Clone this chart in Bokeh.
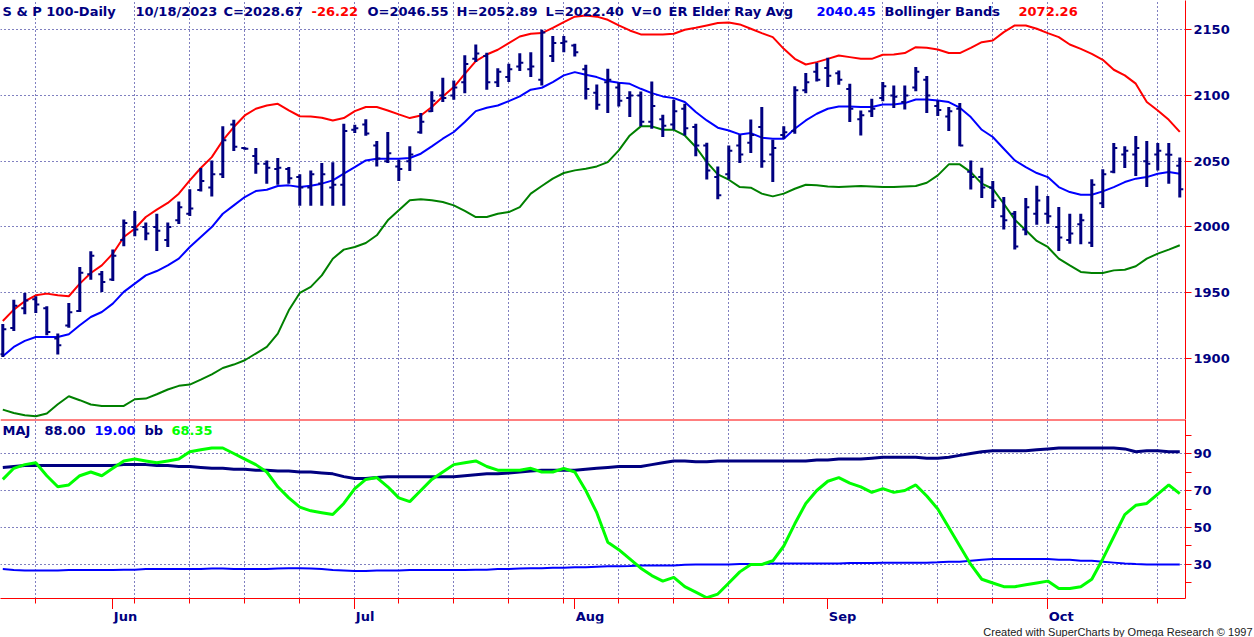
from bokeh.plotting import figure
from bokeh.models import Range1d, FixedTicker, Span, Label, Grid, ColumnDataSource, Title
from bokeh.layouts import column
from bokeh.embed import file_html
from bokeh.resources import INLINE
from bokeh.core.properties import value

# ---------------- data ----------------
opens = [1903, 1923, 1938, 1945, 1938, 1915, 1925, 1936, 1964, 1964,
         1960, 1990, 2000, 2000, 2000, 1990, 2005, 2010, 2028, 2030,
         2040, 2078, 2060, 2054, 2048, 2044, 2044, 2038, 2030, 2033,
         2030, 2032, 2074, 2078, 2062, 2050, 2046, 2050, 2072, 2088,
         2100, 2100, 2110, 2128, 2130, 2110, 2114, 2122, 2120, 2112,
         2130, 2140, 2138, 2120, 2102, 2110, 2106, 2098, 2100, 2080,
         2082, 2078, 2090, 2076, 2062, 2038, 2040, 2062, 2064, 2076,
         2055, 2070, 2073, 2104, 2118, 2121, 2117, 2105, 2082, 2088,
         2098, 2100, 2095, 2106, 2112, 2092, 2084, 2090, 2042, 2038,
         2030, 2008, 2010, 1998, 2010, 2010, 2000, 1990, 2002, 1988,
         2018, 2042, 2055, 2055, 2050, 2055, 2055, 2046.55]
highs = [1926.0, 1944.6, 1949.7, 1947.2, 1939.6, 1918.8, 1942.1, 1969.5, 1981.4, 1966.4,
         1982.7, 2005.7, 2012.1, 2003.4, 2010.0, 2003.4, 2019.4, 2028.6, 2044.8, 2050.6,
         2076.5, 2081.5, 2060.6, 2060.0, 2050.6, 2052.4, 2045.5, 2040.0, 2043.0, 2048.6,
         2049.1, 2078.5, 2077.7, 2082.0, 2065.3, 2072.2, 2051.1, 2061.3, 2086.6, 2103.3,
         2113.5, 2111.5, 2130.7, 2138.8, 2132.5, 2120.8, 2124.1, 2132.2, 2133.0, 2150.0,
         2145.2, 2145.2, 2139.4, 2123.4, 2108.4, 2120.3, 2109.7, 2103.3, 2103.1, 2110.7,
         2085.3, 2096.8, 2093.7, 2078.5, 2064.0, 2046.0, 2062.0, 2070.1, 2081.8, 2091.2,
         2066.3, 2076.5, 2107.1, 2117.2, 2124.9, 2128.7, 2119.0, 2108.9, 2088.6, 2097.5,
         2110.2, 2107.7, 2107.7, 2121.6, 2114.8, 2096.2, 2091.2, 2094.2, 2050.6, 2045.0,
         2034.9, 2022.7, 2012.1, 2022.0, 2031.3, 2023.5, 2015.1, 2010.0, 2010.0, 2036.2,
         2043.8, 2063.8, 2061.3, 2069.1, 2065.3, 2063.8, 2063.8, 2052.89]
lows = [1901.0, 1920.8, 1933.5, 1934.5, 1917.5, 1902.8, 1923.3, 1935.2, 1959.8, 1950.5,
        1958.8, 1985.2, 1992.8, 1989.8, 1981.7, 1984.6, 2002.2, 2008.3, 2027.0, 2023.2,
        2037.2, 2057.7, 2058.7, 2040.5, 2032.9, 2032.1, 2032.9, 2016.1, 2016.1, 2016.1,
        2016.1, 2016.1, 2071.4, 2069.4, 2046.0, 2048.6, 2034.9, 2042.5, 2070.9, 2087.4,
        2095.0, 2096.8, 2101.8, 2125.4, 2104.4, 2106.4, 2110.2, 2118.6, 2114.0, 2107.7,
        2125.4, 2133.0, 2129.7, 2097.0, 2089.2, 2086.6, 2091.7, 2083.6, 2076.5, 2074.7,
        2068.4, 2073.9, 2069.6, 2053.7, 2036.1, 2021.0, 2036.1, 2048.6, 2056.2, 2045.0,
        2034.1, 2067.1, 2070.9, 2101.8, 2110.7, 2106.4, 2108.2, 2079.8, 2069.6, 2083.6,
        2095.7, 2090.4, 2089.4, 2103.3, 2086.6, 2084.3, 2072.9, 2061.3, 2028.4, 2022.0,
        2014.4, 1998.1, 1982.7, 1993.6, 2001.7, 2002.4, 1981.7, 1987.2, 1986.7, 1984.7,
        2014.4, 2040.9, 2044.8, 2038.7, 2030.3, 2042.9, 2032.8, 2022.40]
closes = [1922, 1940, 1944, 1941, 1920, 1910, 1935, 1965, 1978, 1958,
          1978, 2003, 1998, 1995, 1997, 2000, 2015, 2014, 2035, 2040,
          2066, 2061, 2059.5, 2048, 2045, 2045, 2037, 2030, 2040, 2040,
          2032, 2073, 2075, 2071, 2052, 2056, 2044, 2055, 2080, 2096,
          2098, 2106, 2124, 2132, 2110, 2118, 2120, 2125, 2122, 2148,
          2140, 2141, 2133, 2105, 2093, 2112, 2096, 2100, 2080, 2092,
          2077, 2088, 2075, 2062, 2043, 2024, 2058, 2055, 2070, 2050,
          2060, 2072, 2104, 2110, 2112, 2115, 2112, 2090, 2085, 2090,
          2107, 2099, 2100, 2118, 2100, 2089, 2088, 2062, 2038, 2030,
          2020, 2005, 1985, 2015, 2020, 2008, 1992, 1995, 2005, 2032,
          2040, 2060, 2058, 2060, 2048, 2058, 2054.89, 2028.67]

bb_upper = [1928.4, 1937.0, 1943.4, 1947.9, 1949.2, 1947.9, 1947.2, 1956.8, 1964.9, 1970.7,
            1979.6, 1992.3, 1998.6, 2007.5, 2013.1, 2018.2, 2025.3, 2035.4, 2044.8, 2053.1,
            2065.8, 2076.0, 2084.8, 2089.9, 2092.4, 2093.7, 2088.6, 2084.2, 2084.1, 2083.1,
            2081.0, 2082.8, 2088.1, 2091.2, 2091.2, 2088.6, 2085.6, 2082.8, 2084.8, 2091.2,
            2099.3, 2106.4, 2116.5, 2126.2, 2131.2, 2134.8, 2139.9, 2144.9, 2147.0, 2147.5,
            2151.5, 2155.8, 2160.0, 2160.9, 2160.0, 2157.6, 2153.3, 2149.5, 2146.5, 2146.5,
            2146.5, 2147.0, 2150.0, 2151.5, 2153.3, 2155.1, 2155.6, 2154.1, 2150.8, 2147.5,
            2144.4, 2135.5, 2127.9, 2123.6, 2125.4, 2127.9, 2130.5, 2129.2, 2127.9, 2127.9,
            2131.0, 2131.2, 2132.3, 2136.8, 2136.3, 2135.0, 2132.3, 2132.3, 2136.3, 2140.6,
            2141.9, 2148.2, 2153.3, 2153.3, 2150.8, 2147.5, 2144.4, 2138.8, 2135.5, 2131.7,
            2127.2, 2119.6, 2115.3, 2109.0, 2095.0, 2088.6, 2081.5, 2072.26]
bb_mid = [1901.5, 1908.6, 1913.2, 1916.2, 1916.2, 1916.2, 1918.3, 1925.1, 1931.4, 1935.2,
          1941.6, 1950.5, 1956.8, 1963.1, 1966.4, 1970.7, 1975.8, 1984.7, 1992.3, 1999.9,
          2010.0, 2016.4, 2022.7, 2027.3, 2028.3, 2031.1, 2031.6, 2030.3, 2031.3, 2032.9,
          2035.4, 2040.5, 2045.5, 2050.6, 2051.9, 2051.9, 2051.9, 2052.4, 2055.7, 2061.3,
          2067.1, 2072.2, 2079.8, 2088.1, 2090.7, 2092.4, 2095.7, 2099.3, 2104.4, 2105.9,
          2110.2, 2115.3, 2117.8, 2115.8, 2114.0, 2111.0, 2109.7, 2108.9, 2105.1, 2101.8,
          2099.3, 2098.0, 2095.0, 2087.4, 2081.0, 2075.5, 2073.4, 2070.4, 2071.4, 2067.9,
          2067.1, 2067.1, 2074.7, 2081.0, 2086.1, 2089.9, 2091.7, 2091.7, 2091.2, 2091.2,
          2093.2, 2093.2, 2094.2, 2097.0, 2097.0, 2096.2, 2095.0, 2090.7, 2083.6, 2073.9,
          2068.4, 2059.5, 2050.6, 2045.5, 2041.0, 2037.9, 2030.3, 2026.5, 2024.5, 2024.5,
          2027.0, 2030.3, 2034.1, 2036.7, 2037.9, 2040.5, 2041.7, 2040.45]
bb_lower = [1860.9, 1858.4, 1856.6, 1855.9, 1857.9, 1865.0, 1871.1, 1868.1, 1864.8, 1863.7,
            1863.7, 1863.7, 1868.8, 1869.3, 1872.6, 1876.2, 1879.0, 1880.0, 1883.8, 1887.8,
            1892.6, 1895.2, 1898.5, 1903.6, 1908.6, 1918.8, 1936.5, 1949.7, 1954.3, 1963.1,
            1975.8, 1982.7, 1984.7, 1987.7, 1993.6, 2005.0, 2012.6, 2020.2, 2021.0, 2020.2,
            2018.9, 2016.4, 2012.1, 2007.5, 2007.5, 2010.0, 2011.3, 2015.1, 2025.3, 2031.1,
            2036.7, 2041.0, 2043.0, 2044.3, 2046.0, 2049.3, 2058.2, 2069.6, 2076.5, 2076.5,
            2073.9, 2073.9, 2069.6, 2060.8, 2049.3, 2040.0, 2035.9, 2030.3, 2029.8, 2025.3,
            2023.2, 2025.3, 2029.0, 2032.1, 2031.6, 2030.8, 2030.3, 2030.8, 2031.1, 2030.8,
            2030.3, 2030.3, 2030.8, 2031.1, 2033.6, 2039.2, 2047.6, 2047.6, 2041.7, 2032.9,
            2029.0, 2017.6, 2005.5, 1997.4, 1989.3, 1984.7, 1975.8, 1970.7, 1965.7, 1964.9,
            1964.9, 1966.9, 1967.4, 1970.0, 1975.8, 1979.6, 1982.7, 1986.0]

maj = [82.5, 83, 83.5, 83.5, 83.5, 83.5, 83.5, 83.5, 83.5, 83.5,
       83.5, 84, 84, 84, 83.5, 83.5, 83, 83, 82.5, 82,
       82, 81.5, 81.5, 81, 81, 80.5, 80.5, 80, 80, 79.5,
       79, 77.5, 76.5, 76.5, 77, 77.5, 77.5, 77.5, 77.5, 77.5,
       77.5, 77.5, 78, 78.5, 79, 79, 79.5, 80, 80.5, 81,
       81, 81, 81, 81.5, 82, 82.5, 83, 83, 83, 84,
       85, 86, 86, 85.5, 85.5, 86, 86, 86, 86, 86,
       86, 86, 86, 86, 86.5, 86.5, 87, 87, 87, 87.5,
       88, 88, 88, 88, 87.5, 87.5, 88, 89, 90, 91,
       91.5, 91.5, 91.5, 91.5, 92, 92.5, 93, 93, 93, 93,
       93, 93, 92.5, 91, 91.5, 91.5, 91, 91]
line19 = [27.5, 27, 26.8, 26.8, 26.8, 26.8, 27, 27, 27, 27,
          27, 27.2, 27.2, 27.5, 27.5, 27.5, 27.5, 27.5, 27.5, 27.8,
          27.8, 27.5, 27.5, 27.5, 27.5, 27.8, 28, 28, 27.8, 27.5,
          27, 26.8, 26.5, 26.5, 26.8, 26.8, 26.8, 27, 27, 27,
          27, 27, 27, 27.2, 27.2, 27.5, 27.5, 27.8, 28, 28,
          28.2, 28.2, 28.5, 28.5, 28.8, 29, 29, 29.2, 29.5, 29.5,
          29.5, 29.5, 29.8, 30, 30, 30, 30, 30.2, 30.2, 30.2,
          30.5, 30.5, 30.5, 30.5, 30.5, 30.5, 30.5, 30.8, 30.8, 30.8,
          31, 31, 31, 31, 31, 31.2, 31.5, 31.5, 32, 32.5,
          33, 33, 33, 33, 33, 33, 32.5, 32.5, 32, 32,
          31.5, 31, 30.5, 30.2, 30, 30, 30, 30]
bb_pct = [76, 82, 84, 85, 78, 72, 73, 78, 80, 78,
          82, 86, 87, 86, 85, 86, 87, 91, 92, 93,
          93, 90, 87, 84, 80, 72, 66, 61, 59, 58,
          57, 63, 71, 76, 77, 72, 66, 64, 70, 76,
          80, 84, 85, 86, 83, 81, 81, 81, 82, 80,
          80, 82, 80, 70, 58, 42, 38, 33, 28, 24,
          21, 23, 18, 15, 12, 14, 20, 26, 30, 30,
          32, 40, 52, 63, 70, 75, 77, 74, 72, 69,
          71, 69, 70, 73, 67, 60, 50, 40, 30, 22,
          20, 18, 18, 19, 20, 21, 17, 17, 18, 22,
          33, 45, 57, 62, 63, 68, 73, 68.35]

week_ticks = [3, 12, 17, 22, 27, 32, 36, 41, 46, 51, 56, 61, 66, 71, 80, 85, 90, 95, 100, 105]
month_ticks = [10, 32, 52, 75, 95]
month_labels = ["Jun", "Jul", "Aug", "Sep", "Oct"]
price_ticks = [1900, 1950, 2000, 2050, 2100, 2150]
osc_ticks = [30, 50, 70, 90]
osc_minor = [20, 40, 60, 80, 100]

title_items = [(2, "S & P 100-Daily", "navy"), (135, "10/18/2023", "navy"),
               (223, "C=2028.67", "navy"), (311, "-26.22", "red"),
               (367, "O=2046.55", "navy"), (456, "H=2052.89", "navy"),
               (545, "L=2022.40", "navy"), (631, "V=0", "navy"),
               (668, "ER Elder Ray Avg", "navy"), (816, "2040.45", "blue"),
               (884, "Bollinger Bands", "navy"), (1018, "2072.26", "red")]
osc_items = [(2, "MAJ", "navy"), (44, "88.00", "navy"), (94, "19.00", "blue"),
             (144, "bb", "navy"), (171, "68.35", "lime")]
credit = "Created with SuperCharts by Omega Research \u00a9 1997"

# ---------------- styling ----------------
NAVY = "#000080"
RED = "#FF0000"
BLUE = "#0000FF"
GREEN = "#008000"
LIME = "#00FF00"
CMAP = {"navy": NAVY, "red": RED, "blue": BLUE, "lime": LIME}
FONT = "DejaVu Sans"
FS = "13px"

n = len(closes)
idx = list(range(n))
src = ColumnDataSource(dict(
    x=idx, o=opens, h=highs, l=lows, c=closes,
    xo=[i - 0.32 for i in idx], xc=[i + 0.32 for i in idx],
    up=bb_upper, mid=bb_mid, lo=bb_lower,
    maj=maj, l19=line19, pct=bb_pct))

xr = Range1d(-0.209, 107.52)


def make_fig(h, yr, bottom, xloc, yloc="right"):
    p = figure(width=1254, height=h, x_range=xr, y_range=yr,
               output_backend="svg", toolbar_location=None,
               y_axis_location=yloc, x_axis_location=xloc,
               min_border_left=0, min_border_right=69, min_border_top=0,
               min_border_bottom=bottom, background_fill_color="white",
               border_fill_color="white", outline_line_color=None)
    for g in p.grid:
        g.grid_line_color = None
    if yloc is None:
        return p
    p.add_layout(Grid(dimension=0, ticker=FixedTicker(ticks=week_ticks),
                      grid_line_color=NAVY, grid_line_dash="1 3", grid_line_width=1))
    ax = p.yaxis[0]
    ax.axis_line_color = RED
    ax.axis_line_width = 1
    ax.major_tick_line_color = RED
    ax.major_tick_in = 0
    ax.major_tick_out = 6
    ax.major_label_standoff = 2
    ax.major_label_text_color = NAVY
    ax.major_label_text_font = FONT
    ax.major_label_text_font_style = "bold"
    ax.major_label_text_font_size = FS
    return p


# ---------- upper panel ----------
p1 = make_fig(419, Range1d(1853.4, 2172.3), 0, None)
p1.yaxis.ticker = FixedTicker(ticks=price_ticks)
p1.yaxis.minor_tick_line_color = None
p1.add_layout(Grid(dimension=1, ticker=FixedTicker(ticks=price_ticks),
                   grid_line_color=NAVY, grid_line_dash="1 3", grid_line_width=1))

p1.line("x", "up", source=src, line_color=RED, line_width=2)
p1.line("x", "mid", source=src, line_color=BLUE, line_width=2)
p1.line("x", "lo", source=src, line_color=GREEN, line_width=2)
p1.segment(x0="x", y0="l", x1="x", y1="h", source=src, line_color=NAVY, line_width=3)
p1.segment(x0="xo", y0="o", x1="x", y1="o", source=src, line_color=NAVY, line_width=2)
p1.segment(x0="x", y0="c", x1="xc", y1="c", source=src, line_color=NAVY, line_width=2)

for px, txt, col in title_items:
    p1.add_layout(Label(x=px, x_units="screen", y=2163.9, text=txt,
                        text_color=CMAP[col], text_font=FONT, text_font_style="bold",
                        text_font_size=FS, text_baseline="middle", text_align="left"))

# ---------- lower panel ----------
p2 = make_fig(190, Range1d(11.6, 108.4), 11, "below")
p2.yaxis.ticker = FixedTicker(ticks=osc_ticks, minor_ticks=osc_minor)
p2.yaxis.minor_tick_line_color = RED
p2.yaxis.minor_tick_in = 0
p2.yaxis.minor_tick_out = 6
p2.add_layout(Grid(dimension=1, ticker=FixedTicker(ticks=osc_ticks),
                   grid_line_color=NAVY, grid_line_dash="1 3", grid_line_width=1))

xa = p2.xaxis[0]
xa.ticker = FixedTicker(ticks=month_ticks, minor_ticks=week_ticks)
xa.axis_line_color = RED
xa.major_tick_line_color = RED
xa.minor_tick_line_color = RED
xa.major_tick_in = 0
xa.major_tick_out = 11
xa.minor_tick_in = 0
xa.minor_tick_out = 5
xa.major_label_standoff = 0
xa.major_label_text_font_size = "0px"
xa.major_label_overrides = {t: "" for t in month_ticks}

p2.add_layout(Span(location=108.4, dimension="width", line_color=RED, line_width=2))

p2.line("x", "l19", source=src, line_color=BLUE, line_width=2)
p2.line("x", "maj", source=src, line_color=NAVY, line_width=3)
p2.line("x", "pct", source=src, line_color=LIME, line_width=3)

for px, txt, col in osc_items:
    p2.add_layout(Label(x=px, x_units="screen", y=102.5, text=txt,
                        text_color=CMAP[col], text_font=FONT, text_font_style="bold",
                        text_font_size=FS, text_baseline="middle", text_align="left"))

# ---------- bottom strip: month names and credit ----------
p3 = make_fig(28, Range1d(0, 14), 0, None, None)
msrc = ColumnDataSource(dict(x=month_ticks, y=[7.5] * len(month_ticks), t=month_labels))
p3.text(x="x", y="y", text="t", source=msrc, x_offset=1,
        text_color=NAVY, text_font=value(FONT), text_font_style="bold",
        text_font_size=FS, text_baseline="middle", text_align="left")
p3.add_layout(Title(text=credit, align="right", offset=-67, standoff=0,
                    text_color="#202020", text_font="Liberation Sans",
                    text_font_style="normal", text_font_size="11px"), "below")

layout = column(p1, p2, p3, spacing=0)
open("out.html", "w").write(file_html(layout, INLINE))
